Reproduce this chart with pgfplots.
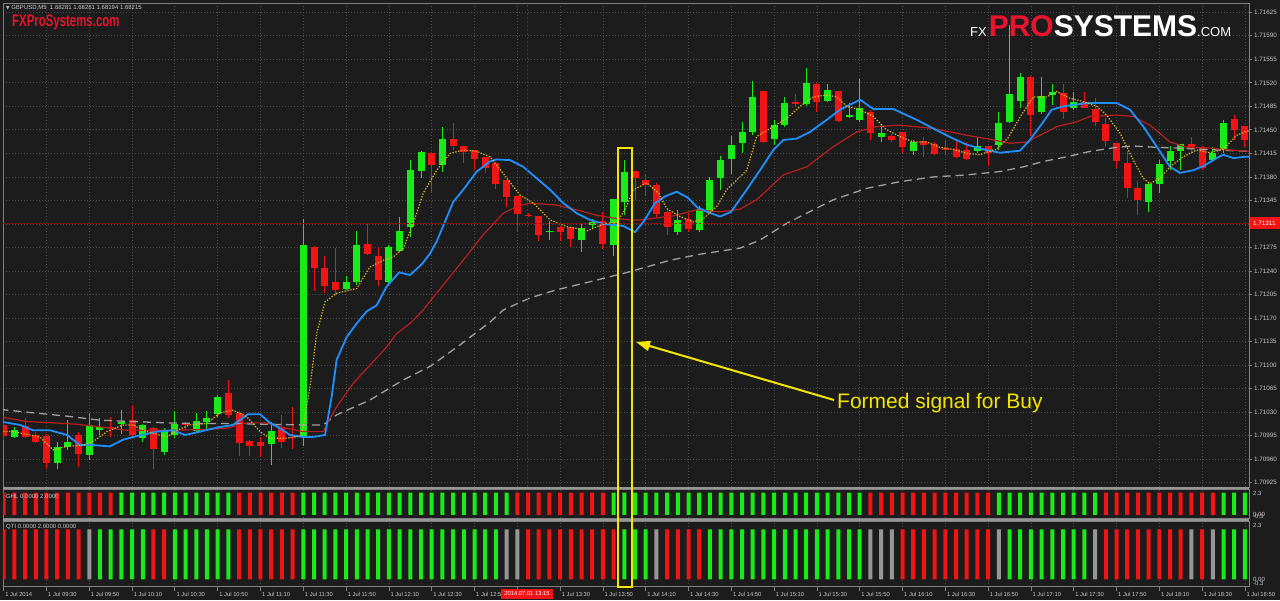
\documentclass[border=0pt]{standalone}
\usepackage{pgfplots}
\usepackage{pgfplotstable}
\pgfplotsset{compat=1.18}
\usepackage{fontspec}
\setmainfont{Liberation Sans}
\newfontfamily\dejavu{DejaVu Sans}
\usetikzlibrary{arrows.meta}

\definecolor{bg}{RGB}{28,28,28}
\definecolor{frame}{RGB}{128,128,128}
\definecolor{sep}{RGB}{150,150,150}
\definecolor{gridc}{RGB}{74,74,74}
\definecolor{txt}{RGB}{200,200,200}
\definecolor{bull}{RGB}{25,235,25}
\definecolor{bear}{RGB}{240,20,20}
\definecolor{neutral}{RGB}{150,150,150}
\definecolor{mablue}{RGB}{30,144,255}
\definecolor{mared}{RGB}{185,30,30}
\definecolor{mayel}{RGB}{225,185,40}
\definecolor{magray}{RGB}{160,160,160}
\definecolor{sig}{RGB}{245,230,0}
\definecolor{logored}{RGB}{230,20,45}
\definecolor{xhair}{RGB}{200,0,0}

% GBPUSD M5 candles, bar index i = 0 is 1 Jul 09:10
\pgfplotstableread{
i o h l c
1 1.70993 1.71008 1.70991 1.71004
5 1.70954 1.70986 1.70946 1.70978
6 1.70978 1.71018 1.70974 1.70986
8 1.70966 1.71028 1.70959 1.71011
9 1.71004 1.71021 1.70996 1.71008
11 1.71013 1.71033 1.70998 1.71016
13 1.70991 1.71013 1.70985 1.71011
15 1.70971 1.71006 1.70966 1.71003
16 1.70996 1.71031 1.70991 1.71013
18 1.71002 1.71028 1.71001 1.71017
19 1.71015 1.71031 1.71003 1.71022
20 1.71027 1.71055 1.71023 1.71053
25 1.70983 1.71016 1.70951 1.71002
28 1.70993 1.71317 1.70979 1.71278
32 1.71213 1.71232 1.71211 1.71224
33 1.71223 1.71300 1.71219 1.71279
36 1.71223 1.71279 1.71219 1.71275
37 1.71270 1.71321 1.71269 1.71299
38 1.71305 1.71405 1.71291 1.71390
39 1.71389 1.71418 1.71378 1.71417
41 1.71398 1.71455 1.71388 1.71437
51 1.71298 1.71314 1.71286 1.71300
54 1.71286 1.71310 1.71269 1.71304
55 1.71308 1.71318 1.71303 1.71313
57 1.71279 1.71347 1.71263 1.71347
58 1.71342 1.71405 1.71323 1.71388
63 1.71298 1.71331 1.71294 1.71316
65 1.71301 1.71337 1.71298 1.71333
66 1.71328 1.71380 1.71326 1.71375
67 1.71378 1.71411 1.71360 1.71405
68 1.71406 1.71441 1.71385 1.71427
69 1.71431 1.71461 1.71416 1.71447
70 1.71447 1.71523 1.71442 1.71499
72 1.71436 1.71465 1.71428 1.71457
73 1.71457 1.71499 1.71455 1.71490
75 1.71489 1.71542 1.71485 1.71520
77 1.71493 1.71519 1.71491 1.71509
79 1.71469 1.71490 1.71467 1.71472
80 1.71464 1.71525 1.71462 1.71482
82 1.71440 1.71457 1.71432 1.71446
85 1.71419 1.71435 1.71413 1.71432
91 1.71419 1.71439 1.71415 1.71426
93 1.71428 1.71477 1.71420 1.71461
94 1.71462 1.71606 1.71460 1.71504
95 1.71493 1.71534 1.71482 1.71529
97 1.71477 1.71529 1.71474 1.71500
98 1.71502 1.71519 1.71487 1.71507
100 1.71483 1.71507 1.71479 1.71492
107 1.71343 1.71371 1.71328 1.71369
108 1.71369 1.71405 1.71356 1.71399
109 1.71403 1.71426 1.71390 1.71419
110 1.71419 1.71429 1.71390 1.71429
113 1.71405 1.71425 1.71403 1.71415
114 1.71420 1.71465 1.71415 1.71460
}\upbars

\pgfplotstableread{
i o h l c
0 1.71011 1.71018 1.70989 1.70995
2 1.71009 1.71021 1.70991 1.70993
3 1.70996 1.71001 1.70984 1.70986
4 1.70995 1.70998 1.70945 1.70955
7 1.70996 1.71001 1.70949 1.70968
10 1.71008 1.71023 1.70993 1.71007
12 1.71019 1.71041 1.70993 1.70996
14 1.71006 1.71008 1.70945 1.70975
17 1.71013 1.71016 1.71003 1.71011
21 1.71058 1.71078 1.71021 1.71026
22 1.71029 1.71031 1.70965 1.70984
23 1.70987 1.70989 1.70965 1.70980
24 1.70986 1.70993 1.70963 1.70980
26 1.71006 1.71026 1.70976 1.70986
27 1.70993 1.71038 1.70975 1.70991
29 1.71276 1.71277 1.71210 1.71245
30 1.71244 1.71262 1.71208 1.71218
31 1.71223 1.71274 1.71204 1.71212
34 1.71280 1.71311 1.71264 1.71265
35 1.71262 1.71276 1.71217 1.71226
40 1.71416 1.71417 1.71357 1.71398
42 1.71436 1.71460 1.71420 1.71426
43 1.71426 1.71426 1.71400 1.71417
44 1.71420 1.71420 1.71390 1.71407
45 1.71409 1.71409 1.71386 1.71394
46 1.71400 1.71400 1.71362 1.71369
47 1.71376 1.71376 1.71335 1.71350
48 1.71351 1.71351 1.71298 1.71325
49 1.71324 1.71326 1.71320 1.71322
50 1.71322 1.71322 1.71285 1.71294
52 1.71306 1.71307 1.71285 1.71298
53 1.71305 1.71305 1.71276 1.71287
56 1.71314 1.71328 1.71273 1.71280
59 1.71389 1.71389 1.71346 1.71378
60 1.71375 1.71385 1.71351 1.71368
61 1.71368 1.71371 1.71321 1.71325
62 1.71328 1.71331 1.71293 1.71305
64 1.71317 1.71326 1.71298 1.71302
71 1.71508 1.71508 1.71431 1.71432
74 1.71491 1.71504 1.71485 1.71488
76 1.71519 1.71520 1.71477 1.71492
78 1.71508 1.71508 1.71462 1.71463
81 1.71477 1.71480 1.71435 1.71445
83 1.71441 1.71444 1.71432 1.71435
84 1.71447 1.71447 1.71415 1.71424
86 1.71433 1.71440 1.71409 1.71427
87 1.71429 1.71432 1.71413 1.71414
88 1.71423 1.71435 1.71413 1.71420
89 1.71421 1.71435 1.71408 1.71409
90 1.71420 1.71432 1.71405 1.71406
92 1.71426 1.71426 1.71396 1.71416
96 1.71529 1.71530 1.71441 1.71472
99 1.71505 1.71518 1.71466 1.71477
101 1.71492 1.71507 1.71482 1.71483
102 1.71481 1.71498 1.71456 1.71461
103 1.71459 1.71467 1.71424 1.71434
104 1.71430 1.71430 1.71394 1.71404
105 1.71400 1.71418 1.71348 1.71363
106 1.71363 1.71374 1.71323 1.71345
111 1.71429 1.71439 1.71416 1.71423
112 1.71425 1.71426 1.71390 1.71394
115 1.71466 1.71472 1.71435 1.71450
116 1.71456 1.71456 1.71424 1.71435
}\downbars

\pgfplotsset{
  mt4/.style={
    scale only axis, anchor=south west, width=1246pt,
    xmin=-0.065, xmax=116.383,
    axis line style={draw=frame, line width=0.8pt},
    xtick={0,4,...,116}, xmajorgrids,
    grid style={draw=gridc, line width=0.8pt, dash pattern=on 1pt off 2pt},
    tick style={draw=frame, line width=0.8pt},
    ticklabel style={text=txt},
    /pgf/number format/assume math mode=true,
  },
  wick/.style={draw=none, mark=none, forget plot,
    error bars/.cd, y dir=plus, y explicit, error mark=none,
    error bar style={draw=#1, line width=1pt}},
  body/.style={draw=none, mark=none, forget plot,
    error bars/.cd, y dir=plus, y explicit, error mark=none,
    error bar style={draw=#1, line width=7pt}},
  hist/.style={ybar, bar width=4pt, bar shift=0pt, fill=#1, draw=none, forget plot},
}

\begin{document}
\begin{tikzpicture}[x=1pt,y=1pt]
\fill[bg] (0pt,0pt) rectangle (1280pt,600pt);

% ---------------- price window ----------------
\begin{axis}[mt4, at={(3pt,113pt)}, height=484pt,
  ymin=1.709186, ymax=1.716388,
  xticklabel=\empty, xtick style={draw=none},
  ymajorgrids, ytick pos=right, yticklabel pos=right,
  tick align=outside, major tick length=3pt,
  ytick={1.70925,1.70960,1.70995,1.71030,1.71065,1.71100,1.71135,1.71170,1.71205,1.71240,1.71275,1.71310,1.71345,1.71380,1.71415,1.71450,1.71485,1.71520,1.71555,1.71590,1.71625},
  yticklabels={1.70925,1.70960,1.70995,1.71030,1.71065,1.71100,1.71135,1.71170,1.71205,1.71240,1.71275,1.71310,1.71345,1.71380,1.71415,1.71450,1.71485,1.71520,1.71555,1.71590,1.71625},
  yticklabel style={font=\fontsize{6.3}{7}\selectfont, anchor=west, inner sep=0pt, xshift=2pt},
]
\addplot[wick=bull] table[x=i, y=l, y error expr=\thisrow{h}-\thisrow{l}] {\upbars};
\addplot[wick=bear] table[x=i, y=l, y error expr=\thisrow{h}-\thisrow{l}] {\downbars};
\addplot[body=bull] table[x=i, y=o, y error expr=\thisrow{c}-\thisrow{o}] {\upbars};
\addplot[body=bear] table[x=i, y=c, y error expr=\thisrow{o}-\thisrow{c}] {\downbars};

% slow MA (grey dashed)
\addplot[magray, line width=1.3pt, dash pattern=on 8pt off 5pt, mark=none] coordinates {
(-0.3,1.71034) (2.74,1.71029) (5.92,1.71024) (9.00,1.71018) (12.08,1.71016) (15.26,1.71014)
(18.35,1.71013) (21.43,1.71013) (24.61,1.71012) (27.69,1.71011) (29.87,1.71011) (31.12,1.71026)
(34.23,1.71048) (37.35,1.71078) (39.84,1.71098) (42.64,1.71130) (45.45,1.71164) (46.69,1.71182)
(49.19,1.71200) (51.68,1.71212) (54.79,1.71224) (58.53,1.71239) (62.27,1.71256) (65.07,1.71265)
(68.81,1.71274) (70.68,1.71286) (73.18,1.71311) (77.53,1.71346) (80.65,1.71363) (83.77,1.71373)
(86.88,1.71380) (90.00,1.71383) (93.11,1.71388) (95.29,1.71395) (97.16,1.71403) (99.35,1.71410)
(101.52,1.71418) (104.02,1.71424) (105.57,1.71426) (107.76,1.71424) (109.63,1.71423)
(112.11,1.71421) (116.5,1.71418)};

% medium MA (dark red)
\addplot[mared, line width=1.2pt, mark=none] coordinates {
(-0.3,1.71023) (2.15,1.71016) (4.64,1.71014) (6.82,1.71012) (9.00,1.71008) (11.50,1.71003)
(15.85,1.71003) (18.35,1.71004) (20.84,1.71006) (22.71,1.71014) (24.58,1.71014) (26.45,1.71006)
(28.00,1.71001) (29.87,1.71001) (30.34,1.71016) (31.12,1.71038) (32.67,1.71073) (34.23,1.71100)
(35.79,1.71127) (36.73,1.71147) (37.97,1.71162) (39.21,1.71182) (39.84,1.71195) (42.34,1.71244)
(44.82,1.71294) (46.69,1.71326) (47.94,1.71336) (49.19,1.71341) (51.68,1.71338) (53.55,1.71331)
(55.42,1.71323) (57.29,1.71318) (58.53,1.71316) (59.47,1.71316) (62.58,1.71322) (64.77,1.71331)
(66.94,1.71328) (68.81,1.71332) (70.37,1.71346) (72.86,1.71383) (75.05,1.71395) (77.53,1.71425)
(79.72,1.71447) (81.59,1.71455) (83.77,1.71457) (86.88,1.71452) (90.00,1.71442) (92.49,1.71435)
(94.05,1.71430) (95.61,1.71432) (96.85,1.71442) (98.41,1.71455) (100.28,1.71462) (101.52,1.71470)
(104.02,1.71472) (105.57,1.71470) (107.13,1.71457) (109.00,1.71432) (110.56,1.71424)
(112.74,1.71423) (114.61,1.71420) (116.5,1.71418)};

% fast MA (blue)
\addplot[mablue, line width=1.8pt, mark=none] coordinates {
(-0.3,1.71016) (1.52,1.71011) (2.74,1.71003) (4.33,1.71003) (5.92,1.70996) (7.13,1.70981)
(8.35,1.70981) (9.93,1.70979) (11.15,1.70989) (12.08,1.70993) (14.33,1.71001) (15.82,1.71003)
(16.94,1.70996) (18.35,1.71001) (19.93,1.71007) (21.43,1.71011) (22.83,1.71027) (23.95,1.71027)
(24.89,1.71014) (25.82,1.71006) (26.76,1.70996) (27.97,1.70993) (28.91,1.70993) (30.03,1.70996)
(30.65,1.71053) (31.12,1.71108) (32.06,1.71142) (32.99,1.71162) (33.93,1.71180) (34.86,1.71189)
(35.79,1.71217) (36.97,1.71238) (37.97,1.71234) (39.07,1.71250) (39.84,1.71266) (40.47,1.71284)
(42.02,1.71343) (42.95,1.71361) (44.21,1.71388) (45.45,1.71403) (46.07,1.71406) (47.32,1.71405)
(48.56,1.71395) (49.81,1.71378) (51.06,1.71361) (52.30,1.71341) (53.55,1.71326) (54.79,1.71316)
(56.04,1.71310) (57.29,1.71308) (57.91,1.71307) (59.00,1.71298) (59.78,1.71313) (60.87,1.71341)
(61.80,1.71351) (62.90,1.71358) (63.95,1.71349) (64.79,1.71335) (65.73,1.71328) (66.94,1.71321)
(67.97,1.71328) (69.44,1.71361) (70.68,1.71390) (71.93,1.71420) (72.86,1.71435) (74.11,1.71437)
(75.36,1.71447) (76.92,1.71465) (78.16,1.71480) (80.03,1.71495) (81.27,1.71481) (83.14,1.71481)
(85.33,1.71465) (86.88,1.71452) (88.75,1.71437) (90.00,1.71428) (91.55,1.71421) (93.11,1.71416)
(94.98,1.71419) (95.91,1.71435) (97.16,1.71462) (97.94,1.71480) (99.03,1.71485) (101.21,1.71490)
(104.02,1.71490) (105.26,1.71480) (106.50,1.71455) (107.76,1.71425) (109.00,1.71395)
(109.93,1.71386) (111.18,1.71390) (112.11,1.71396) (113.36,1.71408) (113.98,1.71413)
(114.92,1.71408) (116.01,1.71410) (116.5,1.71410)};

% very fast MA (yellow dotted)
\addplot[mayel, line width=1.2pt, dash pattern=on 1.3pt off 1.6pt, mark=none] coordinates {
(-0.3,1.71001) (0.87,1.71001) (3.39,1.70993) (4.61,1.70974) (5.92,1.70979) (7.41,1.70981)
(8.35,1.70986) (9.65,1.71001) (11.15,1.71011) (12.08,1.71011) (13.39,1.71001) (15.26,1.70993)
(16.20,1.71003) (17.41,1.71011) (19.00,1.71013) (20.21,1.71029) (21.43,1.71033) (22.74,1.71023)
(23.95,1.71001) (24.89,1.70991) (26.48,1.70991) (27.69,1.70995) (27.97,1.71006) (28.63,1.71068)
(29.25,1.71147) (30.03,1.71194) (31.12,1.71207) (32.99,1.71214) (34.23,1.71246) (35.48,1.71256)
(36.41,1.71261) (37.35,1.71274) (38.28,1.71311) (39.21,1.71356) (40.47,1.71390) (41.71,1.71415)
(42.95,1.71420) (44.21,1.71418) (45.45,1.71410) (46.69,1.71385) (48.25,1.71353) (49.50,1.71341)
(51.06,1.71316) (52.62,1.71306) (54.60,1.71300) (56.04,1.71310) (57.29,1.71313) (58.07,1.71331)
(58.85,1.71361) (60.09,1.71371) (61.18,1.71356) (61.96,1.71333) (63.21,1.71321) (64.45,1.71313)
(65.38,1.71318) (66.64,1.71336) (67.57,1.71361) (68.81,1.71380) (69.44,1.71390) (70.37,1.71440)
(71.93,1.71455) (73.18,1.71467) (74.42,1.71485) (75.66,1.71499) (76.92,1.71502) (77.85,1.71499)
(78.79,1.71485) (80.03,1.71480) (81.27,1.71470) (82.52,1.71450) (83.77,1.71440) (85.01,1.71432)
(86.26,1.71432) (87.50,1.71424) (88.75,1.71421) (90.00,1.71415) (91.24,1.71413) (92.49,1.71420)
(92.80,1.71421) (93.86,1.71438) (95.07,1.71471) (96.23,1.71499) (97.48,1.71499) (98.41,1.71507)
(99.65,1.71497) (100.90,1.71492) (102.15,1.71485) (103.08,1.71472) (104.33,1.71445)
(105.57,1.71405) (106.50,1.71378) (107.13,1.71370) (108.07,1.71378) (109.00,1.71395)
(110.24,1.71410) (111.49,1.71420) (112.74,1.71416) (113.98,1.71421) (115.23,1.71442)
(116.01,1.71447) (116.5,1.71449)};
\end{axis}

% ---------------- GHL window ----------------
\begin{axis}[mt4, at={(3pt,81.7pt)}, height=29pt, ymin=-0.3, ymax=2.3,
  ytick=\empty, xticklabel=\empty, xtick style={draw=none}]
\addplot[hist=bull] coordinates {
(11,2) (12,2) (13,2) (14,2) (15,2) (16,2) (17,2) (18,2) (19,2) (20,2) (21,2)
(28,2) (29,2) (30,2) (31,2) (32,2) (33,2) (34,2) (35,2) (36,2) (37,2) (38,2) (39,2) (40,2) (41,2) (42,2) (43,2) (44,2) (45,2) (46,2) (47,2)
(57,2) (58,2) (59,2) (60,2) (61,2) (62,2) (63,2) (64,2) (65,2) (66,2) (67,2) (68,2) (69,2) (70,2) (71,2) (72,2) (73,2) (74,2) (75,2) (76,2) (77,2) (78,2) (79,2) (80,2)
(93,2) (94,2) (95,2) (96,2) (97,2) (98,2) (99,2) (100,2) (101,2) (102,2)
(114,2) (115,2) (116,2)};
\addplot[hist=bear] coordinates {
(0,2) (1,2) (2,2) (3,2) (4,2) (5,2) (6,2) (7,2) (8,2) (9,2) (10,2)
(22,2) (23,2) (24,2) (25,2) (26,2) (27,2)
(48,2) (49,2) (50,2) (51,2) (52,2) (53,2) (54,2) (55,2) (56,2)
(81,2) (82,2) (83,2) (84,2) (85,2) (86,2) (87,2) (88,2) (89,2) (90,2) (91,2) (92,2)
(103,2) (104,2) (105,2) (106,2) (107,2) (108,2) (109,2) (110,2) (111,2) (112,2) (113,2)};
\end{axis}

% ---------------- QTI window ----------------
\begin{axis}[mt4, at={(3pt,13.2pt)}, height=65pt, ymin=-0.3, ymax=2.3,
  ytick=\empty, xtick pos=bottom, tick align=outside, major tick length=4pt,
  xticklabels={1 Jul 2014,1 Jul 09:30,1 Jul 09:50,1 Jul 10:10,1 Jul 10:30,1 Jul 10:50,1 Jul 11:10,1 Jul 11:30,1 Jul 11:50,1 Jul 12:10,1 Jul 12:30,1 Jul 12:5,{},1 Jul 13:30,1 Jul 13:50,1 Jul 14:10,1 Jul 14:30,1 Jul 14:50,1 Jul 15:10,1 Jul 15:30,1 Jul 15:50,1 Jul 16:10,1 Jul 16:30,1 Jul 16:50,1 Jul 17:10,1 Jul 17:30,1 Jul 17:50,1 Jul 18:10,1 Jul 18:30,1 Jul 18:50},
  xticklabel style={font=\fontsize{5.8}{6}\selectfont, anchor=north west, inner sep=0pt, xshift=1.5pt, yshift=-1pt}]
\addplot[hist=bull] coordinates {
(9,2) (10,2) (11,2) (12,2) (13,2) (16,2) (17,2) (18,2) (19,2) (20,2) (21,2)
(28,2) (29,2) (30,2) (31,2) (32,2) (33,2) (34,2) (35,2) (36,2) (37,2) (38,2) (39,2) (40,2) (41,2) (42,2) (43,2) (44,2) (45,2) (46,2)
(58,2) (59,2) (60,2)
(66,2) (67,2) (68,2) (69,2) (70,2) (71,2) (72,2) (73,2) (74,2) (75,2) (76,2) (77,2) (78,2) (79,2) (80,2)
(94,2) (95,2) (96,2) (97,2) (98,2) (99,2) (100,2) (101,2)
(114,2) (115,2) (116,2)};
\addplot[hist=bear] coordinates {
(0,2) (1,2) (2,2) (3,2) (4,2) (5,2) (6,2) (7,2) (14,2) (15,2)
(22,2) (23,2) (24,2) (25,2) (26,2) (27,2)
(49,2) (50,2) (51,2) (52,2) (53,2) (54,2) (55,2) (56,2) (57,2)
(62,2) (63,2) (64,2) (65,2)
(84,2) (85,2) (86,2) (87,2) (88,2) (89,2) (90,2) (91,2) (92,2)
(103,2) (104,2) (105,2) (106,2) (107,2) (108,2) (109,2) (110,2) (112,2)};
\addplot[hist=neutral] coordinates {
(8,2) (47,2) (48,2) (61,2) (81,2) (82,2) (83,2) (93,2) (102,2) (111,2) (113,2)};
\end{axis}

% window separators
\draw[sep, line width=2pt] (3,111.8) -- (1249,111.8);
\draw[sep, line width=2.5pt] (3,80) -- (1249,80);

% crosshair
\draw[xhair, line width=0.9pt, dash pattern=on 2pt off 2pt] (527.5,113) -- (527.5,597);
\draw[xhair, line width=0.9pt, dash pattern=on 2pt off 2pt] (3,377) -- (1249,377);
\fill[bear] (1250,371) rectangle (1280,383);
\node[text=white, font=\fontsize{6.3}{7}\selectfont, anchor=west, inner sep=0pt] at (1253,377) {1.71311};
\fill[bear] (501,1.5) rectangle (553,11);
\node[text=white, font=\fontsize{5.8}{6}\selectfont, inner sep=0pt] at (527,6.2) {2014.07.01 13:15};

% indicator scales and names
\begin{scope}[font=\fontsize{6}{6}\selectfont, text=txt, inner sep=0pt]
\node[anchor=west] at (1253,107) {2.3};
\node[anchor=west] at (1253,86) {0.00};
\node[anchor=west] at (1253,83.5) {-0.3};
\node[anchor=west] at (1253,75) {2.3};
\node[anchor=west] at (1253,21) {0.00};
\node[anchor=west] at (1253,17) {-0.3};
\node[anchor=west] at (6,104) {GHL 0.0000 2.0000};
\node[anchor=west] at (6,73) {QTI 0.0000 2.0000 0.0000};
\node[anchor=west] at (6,592.5) {{\dejavu\fontsize{4.5}{5}\selectfont ▼} GBPUSD,M5 \ 1.68281 1.68281 1.68194 1.68215};
\end{scope}

% branding
\node[anchor=base west, inner sep=0pt, text=logored, font=\fontsize{16.8}{17}\selectfont\bfseries] at (12,573)
  {\scalebox{0.68}[1]{FXProSystems.com}};
\node[anchor=base west, inner sep=0pt, text=white] at (970,563)
  {\fontsize{13}{13}\selectfont FX\hspace{2pt}\fontsize{30}{30}\selectfont\bfseries\textcolor{logored}{PRO}SYSTEMS\fontsize{13}{13}\selectfont\mdseries.COM};

% signal annotation
\draw[sig, line width=2pt] (617.5,452) rectangle (631.5,13.5);
\draw[sig, line width=2pt, -{Triangle[length=14pt, width=10pt]}] (834,200) -- (636,258);
\node[anchor=west, inner sep=0pt, text=sig, font=\fontsize{21}{22}\selectfont] at (837,196.5) {Formed signal for Buy};
\end{tikzpicture}
\end{document}
